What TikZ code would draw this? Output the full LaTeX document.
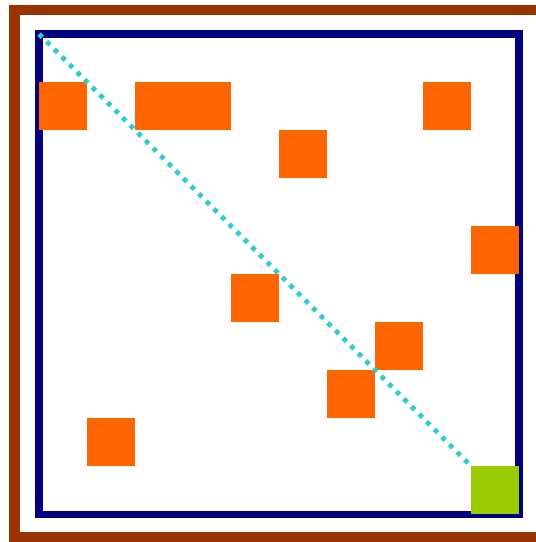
\documentclass[tikz,border=0pt]{standalone}
\usetikzlibrary{positioning}
\definecolor{frameBrown}{HTML}{993300}
\definecolor{wallNavy}{HTML}{000080}
\definecolor{blockOrange}{HTML}{FF6600}
\definecolor{goalGreen}{HTML}{99CC00}
\definecolor{pathCyan}{HTML}{33CCCC}
\begin{document}
\begin{tikzpicture}[
    x=1pt, y=-1pt,
    cell/.style={minimum size=48pt, inner sep=0pt, outer sep=0pt, anchor=north west, fill=blockOrange},
    wide/.style={cell, minimum width=96pt}
]
\useasboundingbox (0,0) rectangle (536,542);
% outer frame and walls
\draw[frameBrown, line width=10.5pt] (540,9.8) -- (14.5,9.8) -- (14.5,537.6) -- (540,537.6);
\draw[wallNavy, line width=7.6pt] (38.8,33.8) rectangle (518.8,514.4);
% blocked cells
\node[cell] (b01) at (39, 82) {};
\node[wide] (b21) at (135, 82) {};
\node[cell] (b81) at (423, 82) {};
\node[cell] (b52) at (279, 130) {};
\node[cell] (b94) at (471, 226) {};
\node[cell] (b45) at (231, 274) {};
\node[cell] (b76) at (375, 322) {};
\node[cell] (b67) at (327, 370) {};
\node[cell] (b18) at (87, 418) {};
% path
\coordinate (start) at (39, 34);
\coordinate (end) at (471, 466);
\draw[pathCyan, line width=4.7pt, dash pattern=on 4.7pt off 6.05pt] (start) -- (end);
\node[cell, fill=goalGreen] (goal) at (end) {};
\end{tikzpicture}
\end{document}
